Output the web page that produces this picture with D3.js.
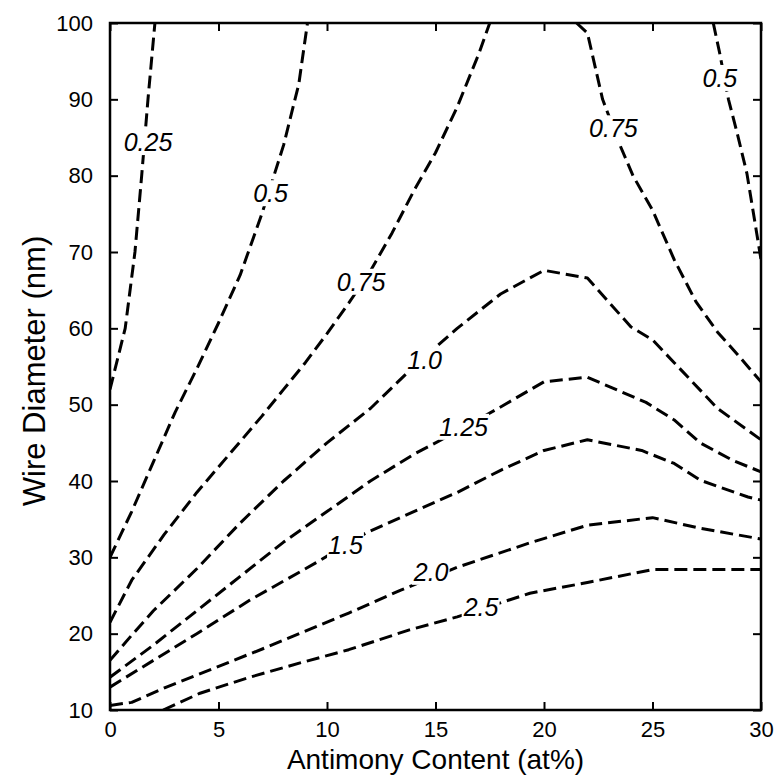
<!DOCTYPE html>
<html>
<head>
<meta charset="utf-8">
<script src="https://cdn.jsdelivr.net/npm/d3@7"></script>
<style>
  body { margin: 0; background: #fff; }
  svg text { font-family: "Liberation Sans", Arial, Helvetica, sans-serif; }
</style>
</head>
<body>
<div id="chart"></div>
<script>
// contour lines, [at%, nm] pairs
var line025 = [[0, 52], [0.35, 56], [0.7, 60], [1.15, 70], [1.46, 80], [1.75, 90], [2.07, 100]];
var line05a = [[0, 30], [1, 36], [2, 42.5], [3, 49], [4, 54.7], [5, 60.7], [6, 67], [7, 75], [8, 84], [8.7, 92], [9.1, 100]];
var line075a = [[0, 21.5], [1, 27], [2.5, 33], [4, 38.5], [5.5, 43.5], [7, 48.5], [8, 52], [9, 55.5], [10, 59.3], [11, 63.3],
  [12, 67.5], [13, 72.5], [14, 78], [15, 83], [16, 89], [17, 96], [17.5, 100]];
var line075b = [[21.5, 100], [22, 98.7], [22.7, 90], [23.5, 84], [24.1, 80], [25, 75.5], [26, 69], [27, 63.5], [28, 59.5], [29, 56.3], [30, 53]];
var line05b = [[27.8, 100], [28.1, 96], [28.5, 90], [28.9, 85.6], [29.35, 80.3], [29.8, 72.5], [30, 69]];
var line10 = [[0, 16.5], [1, 19.8], [2, 23], [4, 28.5], [6, 34.5], [8, 40], [10, 45], [12, 49.5], [14, 55], [16, 60], [18, 64.5],
  [20, 67.6], [22, 66.6], [24, 60.2], [25, 58.5], [26, 55.5], [28, 49.5], [30, 45.4]];
var line125 = [[0, 14.3], [2, 18.5], [4, 23], [6, 27.5], [8, 32], [10, 36], [12, 40], [14, 43.5], [16, 46.5], [18, 49.7],
  [20, 53], [22, 53.6], [24.7, 50.3], [26, 48], [27.2, 45], [28.7, 42.7], [30, 41.2]];
var line15 = [[0, 13], [2, 16.5], [4, 20], [6.45, 24.4], [9.5, 29.3], [11.8, 33.2], [14, 36], [16, 38.5], [18, 41.4],
  [20, 44], [22, 45.4], [24.5, 44], [26, 42.3], [27.2, 40.1], [29.4, 37.9], [30, 37.5]];
var line20 = [[0, 10.6], [1, 11], [2.6, 13], [4.9, 15.6], [7.2, 18.2], [8.8, 20.1], [11, 22.7], [13.4, 25.7], [16, 28.7],
  [19.35, 31.9], [22, 34.2], [25, 35.2], [27.2, 33.8], [30, 32.4]];
var line25 = [[2.45, 10], [4.15, 12.2], [6.45, 14.3], [8.8, 16.2], [11, 17.9], [13.8, 20.5], [16, 22.2], [19.35, 25.3],
  [22, 26.7], [25, 28.4], [30, 28.4]];

// contour labels
var labelText = ["0.25", "0.5", "0.75", "1.0", "1.25", "1.5", "2.0", "2.5", "0.75", "0.5"];
var labelX = [1.75, 7.4, 11.57, 14.5, 16.3, 10.85, 14.8, 17.1, 23.2, 28.1];
var labelY = [84.4, 77.7, 66.1, 55.8, 47.1, 31.6, 28.1, 23.5, 86.2, 92.8];

var xTicks = [0, 5, 10, 15, 20, 25, 30];
var yTicks = [10, 20, 30, 40, 50, 60, 70, 80, 90, 100];

var margin = {top: 23, right: 16, bottom: 67, left: 110};
var width = 777 - margin.left - margin.right;
var height = 777 - margin.top - margin.bottom;

var svg = d3.select('#chart').append('svg')
    .attr('width', 777)
    .attr('height', 777);
var g = svg.append('g')
    .attr('transform', 'translate(' + margin.left + ',' + margin.top + ')');

var x = d3.scaleLinear().domain([0, 30]).range([0, width]);
var y = d3.scaleLinear().domain([10, 100]).range([height, 0]);

g.append('clipPath').attr('id', 'plot')
  .append('rect').attr('width', width).attr('height', height);

var line = d3.line()
    .x(function(d) { return x(d[0]); })
    .y(function(d) { return y(d[1]); });

var lines = [line025, line05a, line075a, line075b, line05b, line10, line125, line15, line20, line25];
g.append('g').attr('clip-path', 'url(#plot)')
  .selectAll('path').data(lines).enter().append('path')
    .attr('d', line)
    .attr('fill', 'none')
    .attr('stroke', '#000')
    .attr('stroke-width', 3)
    .attr('stroke-linejoin', 'round')
    .attr('stroke-dasharray', '13,6');

// labels sit on the lines, a white box breaks the dashes
var labs = g.selectAll('.lab').data(labelText).enter().append('g')
    .attr('class', 'lab');
labs.append('rect').attr('fill', '#fff');
labs.append('text')
    .attr('x', function(d, i) { return x(labelX[i]); })
    .attr('y', function(d, i) { return y(labelY[i]); })
    .attr('dy', '0.36em')
    .attr('text-anchor', 'middle')
    .attr('font-size', 25)
    .attr('font-style', 'italic')
    .attr('fill', '#000')
    .text(function(d) { return d; });
labs.each(function() {
  var b = d3.select(this).select('text').node().getBBox();
  d3.select(this).select('rect')
    .attr('x', b.x - 1).attr('y', b.y + 1)
    .attr('width', b.width + 2).attr('height', b.height - 2);
});

// axes, ticks pointing inward on all four sides
var xAxis = g.append('g')
    .attr('transform', 'translate(0,' + height + ')')
    .call(d3.axisBottom(x).tickValues(xTicks).tickSize(-8).tickPadding(11));
var yAxis = g.append('g')
    .call(d3.axisLeft(y).tickValues(yTicks).tickSize(-8).tickPadding(17));
var topAxis = g.append('g')
    .call(d3.axisTop(x).tickValues(xTicks).tickSize(-8).tickFormat(''));
var rightAxis = g.append('g')
    .attr('transform', 'translate(' + width + ',0)')
    .call(d3.axisRight(y).tickValues(yTicks).tickSize(-8).tickFormat(''));

[xAxis, yAxis, topAxis, rightAxis].forEach(function(a) {
  a.select('.domain').remove();
  a.selectAll('line').attr('stroke', '#000').attr('stroke-width', 2);
  a.selectAll('text').attr('font-size', 22).attr('fill', '#000')
    .style('font-family', '"Liberation Sans", Arial, sans-serif');
});

g.append('rect')
    .attr('width', width)
    .attr('height', height)
    .attr('fill', 'none')
    .attr('stroke', '#000')
    .attr('stroke-width', 2.5);

svg.append('text')
    .attr('x', margin.left + width / 2)
    .attr('y', 769)
    .attr('text-anchor', 'middle')
    .attr('font-size', 28)
    .text('Antimony Content (at%)');

svg.append('text')
    .attr('transform', 'translate(45,371) rotate(-90)')
    .attr('text-anchor', 'middle')
    .attr('font-size', 31)
    .text('Wire Diameter (nm)');
</script>
</body>
</html>
